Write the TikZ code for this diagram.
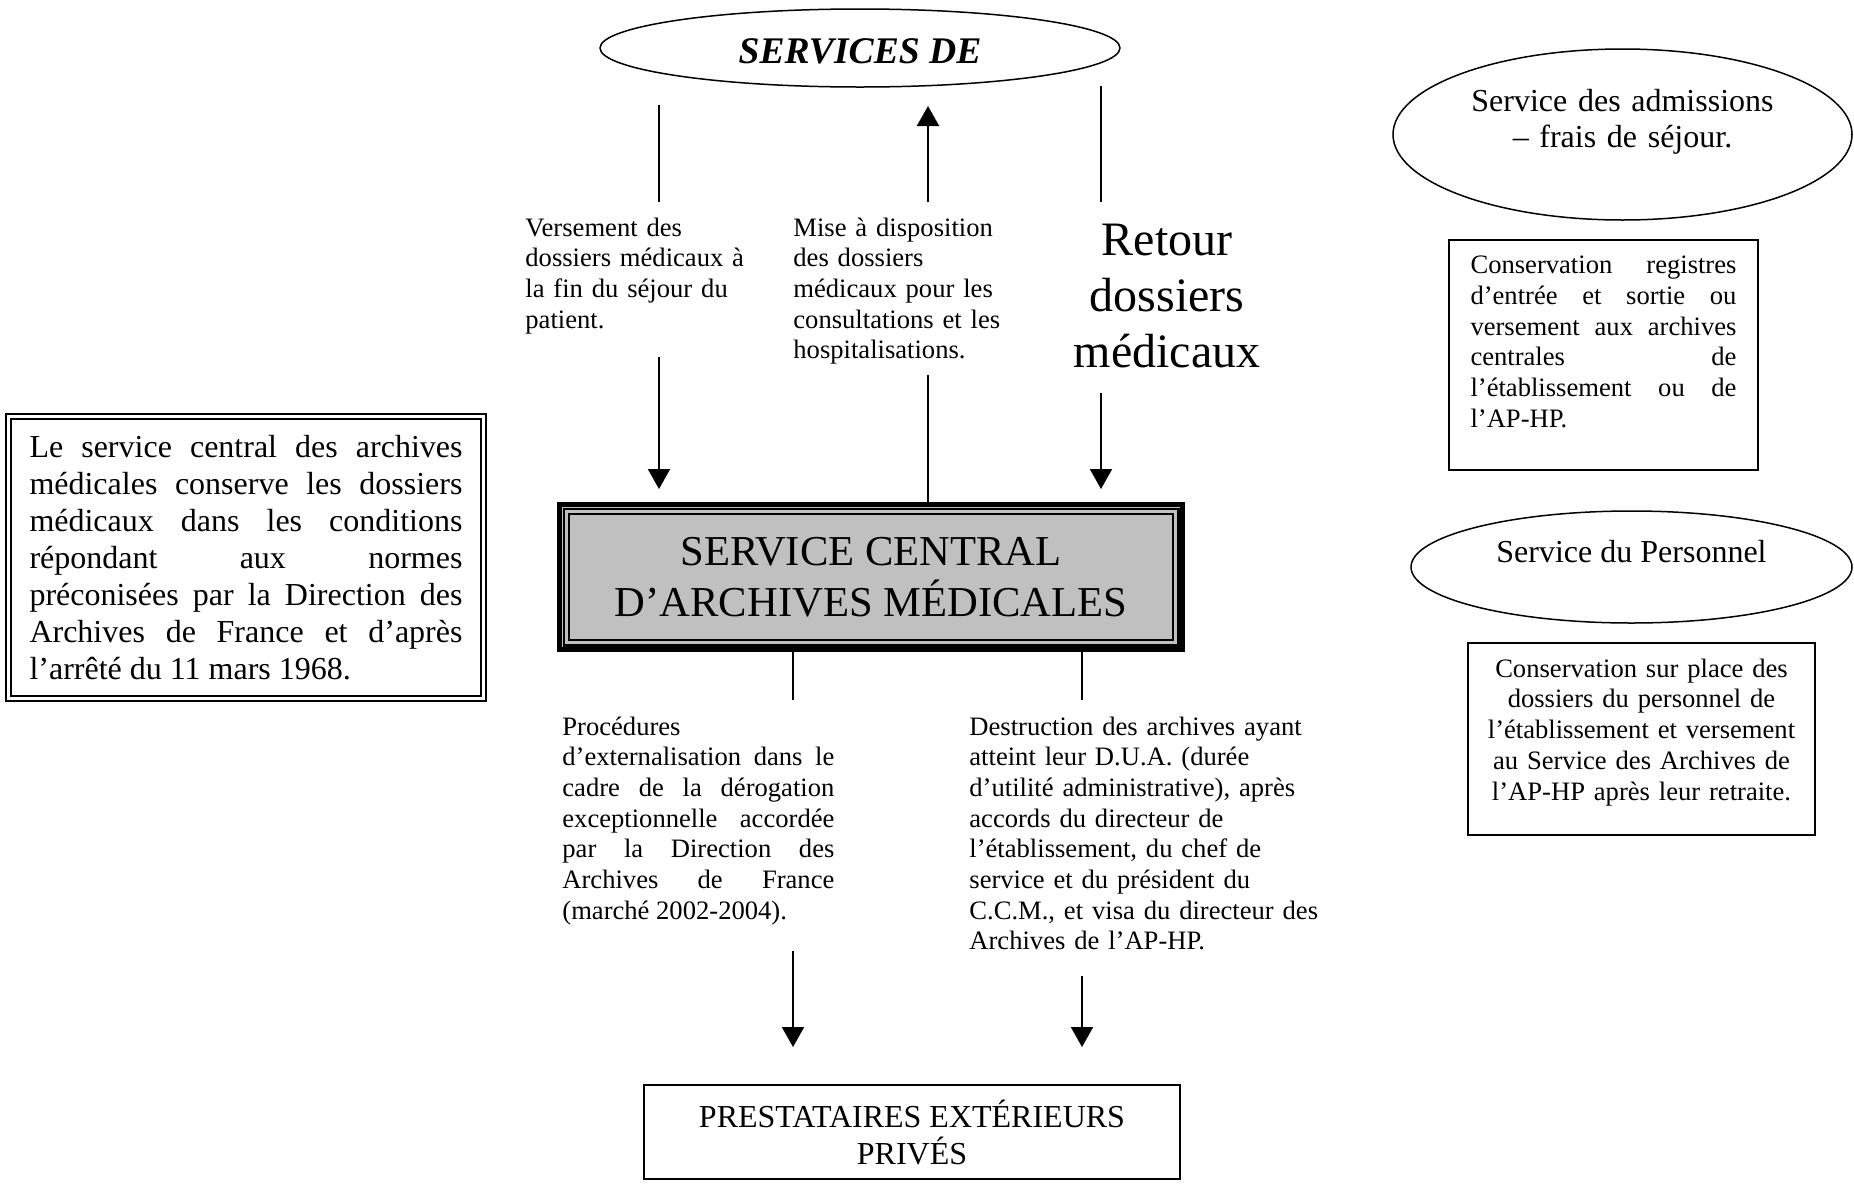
\documentclass[tikz,border=0pt]{standalone}
\usepackage{fontspec}
\setmainfont{Liberation Serif}
\usetikzlibrary{positioning,shapes.geometric,arrows.meta}
\definecolor{boxgray}{RGB}{192,192,192}
\hyphenpenalty=10000
\exhyphenpenalty=10000
\tolerance=10000
\hbadness=10000
\frenchspacing
\tikzset{
	every node/.style={inner sep=0pt},
	lbl/.style={font={\fontsize{13.3pt}{15.35pt}\selectfont}, text width=#1, align=left, anchor=base west},
	jlbl/.style={font={\fontsize{13.3pt}{15.35pt}\selectfont}, text width=#1, align=justify},
	oval/.style={draw, ellipse, line width=0.75pt},
	boxed/.style={draw, rectangle, line width=0.8pt},
	link/.style={line width=1pt},
	flow/.style={line width=1pt, -{Triangle[width=11pt,length=10pt]}},
}

\begin{document}
\begin{tikzpicture}[x=0.5pt,y=-0.5pt]
	\fill[white] (0,0) rectangle (1854,1184);
	\useasboundingbox (0,0) rectangle (1854,1184);

	% services de soins
	\node[oval, minimum width=260pt, minimum height=39pt, font={\fontsize{18.8pt}{22pt}\selectfont\bfseries\itshape}, text height=15.5pt, text depth=0pt] (services) at (860,48) {SERVICES DE};

	\node[lbl=125pt] (versement) at (525,236) {Versement des\\dossiers médicaux à\\la fin du séjour du\\patient.};
	\node[lbl=125pt] (mise) at (793,236) {Mise à disposition\\des dossiers\\médicaux pour les\\consultations et les\\hospitalisations.};
	\node[font={\fontsize{24pt}{28pt}\selectfont}, text width=110pt, align=center, anchor=base] (retour) at (1167,255) {Retour\\dossiers\\médicaux};

	% service central
	\node[draw, line width=2.3pt, fill=boxgray, minimum width=311.5pt, minimum height=72.5pt, align=center, font={\fontsize{21.3pt}{25.5pt}\selectfont}] (central) at (871,577) {SERVICE CENTRAL\\D’ARCHIVES MÉDICALES};
	\draw[line width=1.1pt] ([shift={(3.2pt,-3.2pt)}]central.north west) rectangle ([shift={(-3.2pt,3.2pt)}]central.south east);
	\draw[line width=0.9pt] ([shift={(5.75pt,-5.75pt)}]central.north west) rectangle ([shift={(-5.75pt,5.75pt)}]central.south east);

	\node[draw, double, double distance=1.6pt, line width=0.9pt, minimum width=237.5pt, minimum height=141pt, text width=216.5pt, align=justify, font={\fontsize{16pt}{18.5pt}\selectfont}] (conditions) at (246,557.5) {Le service central des archives\linebreak médicales conserve les dossiers\linebreak médicaux dans les conditions\linebreak répondant aux normes\linebreak préconisées par la Direction des\linebreak Archives de France et d’après\linebreak l’arrêté du 11 mars 1968.};

	% sorties
	\node[jlbl=136pt, anchor=base west] (externe) at (562,735) {Procédures\\d’externalisation dans le\linebreak cadre de la dérogation\linebreak exceptionnelle accordée\linebreak par la Direction des\linebreak Archives de France\linebreak (marché 2002-2004).};
	\node[lbl=180pt] (destruction) at (969,735) {Destruction des archives ayant\\atteint leur D.U.A. (durée\\d’utilité administrative), après\\accords du directeur de\\l’établissement, du chef de\\service et du président du\\C.C.M., et visa du directeur des\\Archives de l’AP-HP.};

	\node[boxed, line width=0.75pt, minimum width=268pt, minimum height=47pt, align=center, font={\fontsize{16pt}{18.5pt}\selectfont}] (presta) at (912,1132) {PRESTATAIRES EXTÉRIEURS\\PRIVÉS};

	% autres services
	\node[oval, minimum width=229.5pt, minimum height=85.5pt, text width=160pt, align=center, font={\fontsize{16pt}{18pt}\selectfont}, text depth=34.4pt] (admissions) at (1622.5,134.5) {Service des admissions\\– frais de séjour.};
	\node[boxed, minimum width=154.5pt, minimum height=115pt, jlbl=133pt, text depth=90pt] (registres) at (1603.5,355) {Conservation registres\linebreak d’entrée et sortie ou\linebreak versement aux archives\linebreak centrales de\linebreak l’établissement ou de\linebreak l’AP-HP.};

	\node[oval, minimum width=220.5pt, minimum height=56pt, font={\fontsize{16pt}{18pt}\selectfont}, text depth=16pt] (personnel) at (1631.5,567) {Service du Personnel};
	\node[boxed, minimum width=173.5pt, minimum height=96pt, text width=165pt, align=center, font={\fontsize{13.3pt}{15.35pt}\selectfont}, text depth=71pt] (dossiers) at (1641.5,739) {Conservation sur place des\\dossiers du personnel de\\l’établissement et versement\\au Service des Archives de\\l’AP-HP après leur retraite.};

	% connecteurs
	\coordinate (v1) at (659,105);
	\coordinate (v2) at (659,202);
	\coordinate (v3) at (659,357);
	\coordinate (v4) at (659,489);
	\coordinate (m1) at (928,106);
	\coordinate (m2) at (928,202);
	\coordinate (m3) at (928,375);
	\coordinate (r1) at (1101,86);
	\coordinate (r2) at (1101,202);
	\coordinate (r3) at (1101,393);
	\coordinate (r4) at (1101,489);
	\coordinate (b1) at (793,700);
	\coordinate (b2) at (1082,700);
	\coordinate (b3) at (793,951);
	\coordinate (b4) at (1082,976);
	\coordinate (b5) at (793,1047);
	\coordinate (b6) at (1082,1047);

	\draw[link] (v1) -- (v2);
	\draw[flow] (v3) -- (v4);
	\draw[flow] (m2) -- (m1);
	\draw[link] (m3) -- (m3 |- central.north);
	\draw[link] (r1) -- (r2);
	\draw[flow] (r3) -- (r4);
	\draw[link] (b1 |- central.south) -- (b1);
	\draw[link] (b2 |- central.south) -- (b2);
	\draw[flow] (b3) -- (b5);
	\draw[flow] (b4) -- (b6);
\end{tikzpicture}
\end{document}
